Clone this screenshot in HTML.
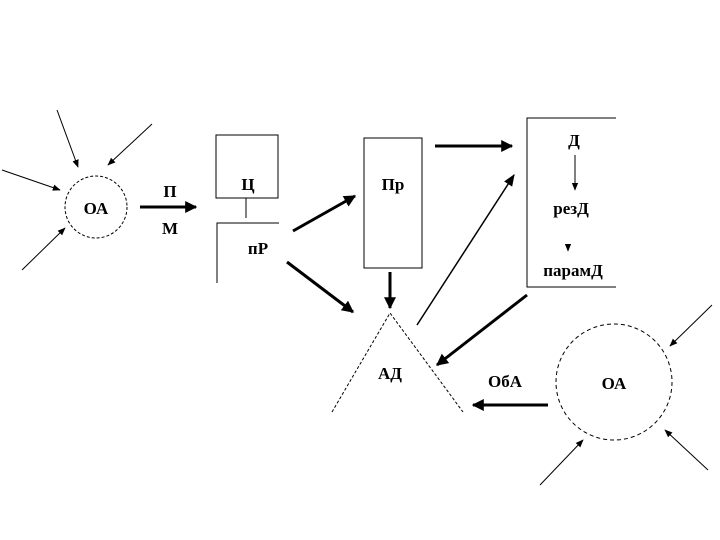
<!DOCTYPE html>
<html><head><meta charset="utf-8"><style>
html,body{margin:0;padding:0;background:#fff;}
svg{display:block;}
text{font-family:"Liberation Serif",serif;font-weight:bold;font-size:17px;fill:#000;}
</style></head><body>
<svg width="720" height="540" viewBox="0 0 720 540" xmlns="http://www.w3.org/2000/svg">
<defs>
<marker id="a" viewBox="0 0 10 10" refX="9" refY="5" markerWidth="4" markerHeight="4" orient="auto"><path d="M0,0L10,5L0,10z" fill="#000"/></marker>
<marker id="t" viewBox="0 0 10 10" refX="9" refY="5" markerWidth="8" markerHeight="8" orient="auto"><path d="M0,1L10,5L0,9z" fill="#000"/></marker>
</defs>
<g stroke="#000" fill="none">
<circle cx="96" cy="207" r="31" stroke-dasharray="3,2"/>
<line x1="57" y1="110" x2="78" y2="167" marker-end="url(#t)"/>
<line x1="152" y1="124" x2="108" y2="165" marker-end="url(#t)"/>
<line x1="2" y1="170" x2="60" y2="190" marker-end="url(#t)"/>
<line x1="22" y1="270" x2="65" y2="228" marker-end="url(#t)"/>
<line x1="140" y1="207" x2="196" y2="207" stroke-width="3" marker-end="url(#a)"/>
<rect x="216" y="135" width="62" height="63"/>
<line x1="246" y1="198" x2="246" y2="218"/>
<polyline points="279,223 217,223 217,283"/>
<line x1="293" y1="231" x2="355" y2="196" stroke-width="3" marker-end="url(#a)"/>
<line x1="287" y1="262" x2="353" y2="312" stroke-width="3" marker-end="url(#a)"/>
<rect x="364" y="138" width="58" height="130"/>
<line x1="390" y1="272" x2="390" y2="308" stroke-width="3" marker-end="url(#a)"/>
<line x1="435" y1="146" x2="512" y2="146" stroke-width="3" marker-end="url(#a)"/>
<polyline points="616,118 527,118 527,287 616,287"/>
<line x1="575" y1="155" x2="575" y2="190" marker-end="url(#t)"/>
<line x1="568" y1="244" x2="568" y2="251" marker-end="url(#t)"/>
<polyline points="332,412 390,313 463,412" stroke-dasharray="3,2"/>
<line x1="417" y1="325" x2="514" y2="175" stroke-width="1.5" marker-end="url(#t)"/>
<line x1="527" y1="295" x2="437" y2="365" stroke-width="3" marker-end="url(#a)"/>
<line x1="548" y1="405" x2="473" y2="405" stroke-width="3" marker-end="url(#a)"/>
<circle cx="614" cy="382" r="58" stroke-dasharray="4,3"/>
<line x1="712" y1="305" x2="670" y2="346" marker-end="url(#t)"/>
<line x1="708" y1="470" x2="665" y2="430" marker-end="url(#t)"/>
<line x1="540" y1="485" x2="583" y2="440" marker-end="url(#t)"/>
</g>
<g text-anchor="middle">
<text x="96" y="214">ОА</text>
<text x="170" y="197">П</text>
<text x="170" y="234">М</text>
<text x="248" y="190">Ц</text>
<text x="258" y="254">пР</text>
<text x="393" y="190">Пр</text>
<text x="574" y="146">Д</text>
<text x="571" y="214">резД</text>
<text x="573" y="276">парамД</text>
<text x="390" y="379">АД</text>
<text x="505" y="387">ОбА</text>
<text x="614" y="389">ОА</text>
</g>
</svg>
</body></html>
